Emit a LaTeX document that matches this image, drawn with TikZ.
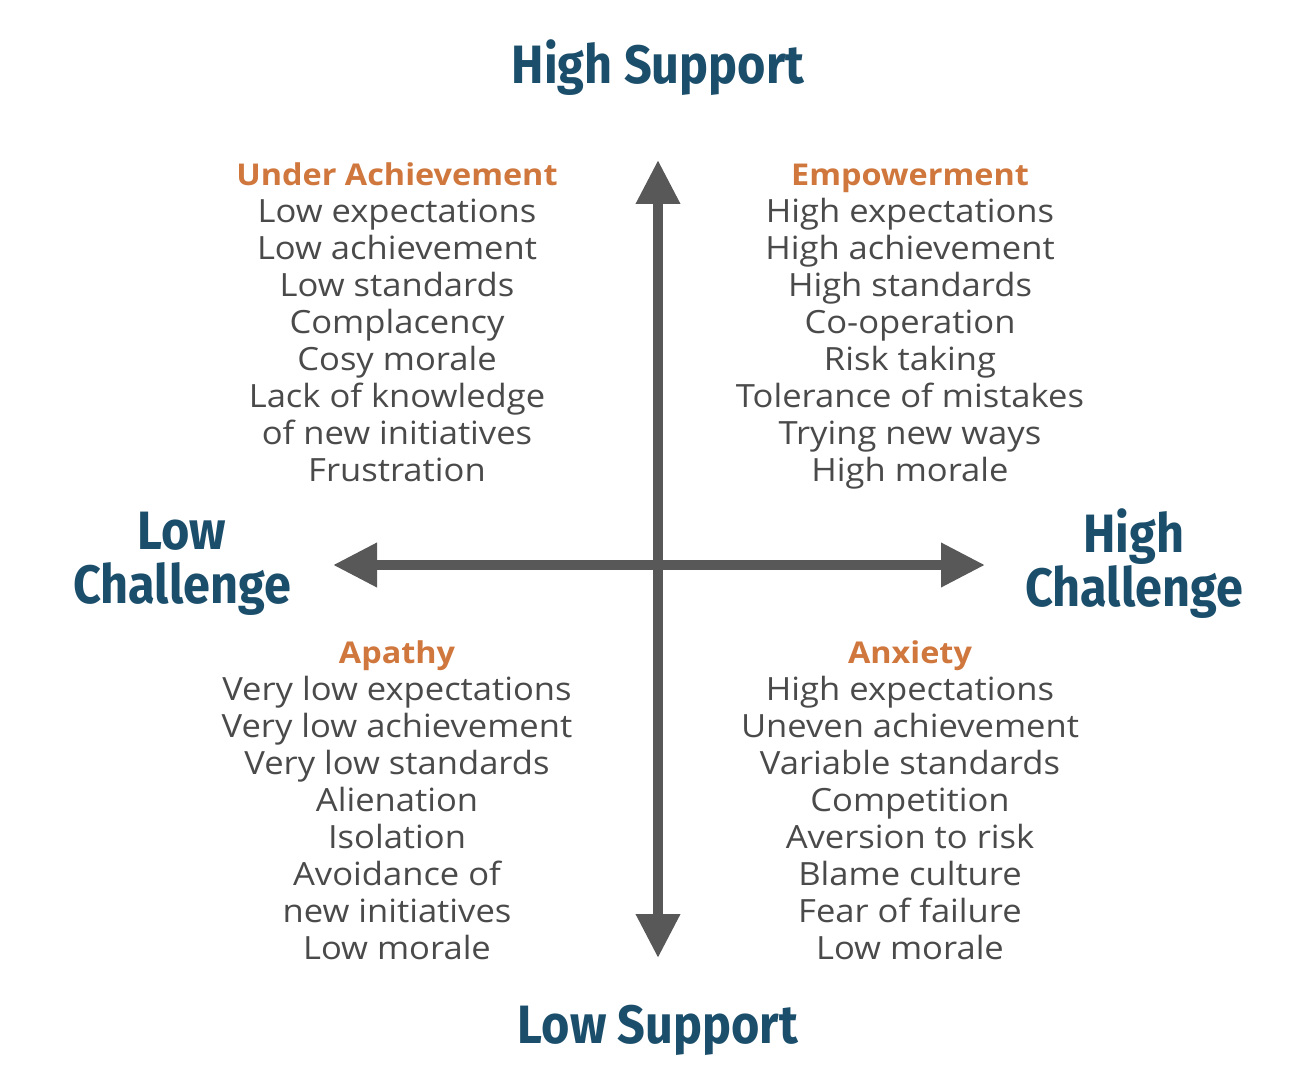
\documentclass[tikz,border=0pt]{standalone}
\usepackage{fontspec}
\setmainfont[FakeStretch=1.08]{Open Sans}
\newfontfamily\headfont[FakeStretch=0.9]{Fira Sans}
\usetikzlibrary{arrows.meta,positioning}
\definecolor{headblue}{HTML}{1B4E6B}
\definecolor{quadorange}{HTML}{D0773D}
\definecolor{bodygray}{HTML}{4A4A4A}
\definecolor{axisgray}{HTML}{585858}
\newcommand{\qtitle}[1]{{\color{quadorange}\bfseries\fontsize{30}{37}\selectfont #1}}

\begin{document}
\begin{tikzpicture}[x=1pt,y=-1pt,
 head/.style={font=\headfont\bfseries\fontsize{54}{62}\selectfont,text=headblue,align=center,inner sep=0pt},
 quad/.style={font=\fontsize{32}{37}\selectfont,text=bodygray,align=center,inner sep=0pt,anchor=base},
 axis/.style={line width=10pt,draw=axisgray,-{Triangle[length=44pt,width=42pt]}}]
\useasboundingbox[fill=white] (0,0) rectangle (1307,1067);
% axes
\coordinate (c) at (658,565);
\coordinate (top) at (658,160);
\coordinate (bot) at (658,958);
\coordinate (lft) at (333,565);
\coordinate (rgt) at (985,565);
\draw[axis] (c)--(top);\draw[axis] (c)--(bot);
\draw[axis] (c)--(lft);\draw[axis] (c)--(rgt);
% axis labels
\node[head] (hs) at (658,68) {High Support};
\node[head] (ls) at (658,1030) {Low Support};
\node[head] (lc) at (182,564) {Low\\[-8pt]Challenge};
\node[head] (hc) at (1134,564) {High\\[-8pt]Challenge};
% quadrants (anchored at the baseline of the last line)
\node[quad] (under) at (397,481) {\qtitle{Under Achievement}\\Low expectations\\Low achievement\\Low standards\\Complacency\\Cosy morale\\Lack of knowledge\\of new initiatives\\Frustration};
\node[quad] (empower) at (910,481) {\qtitle{Empowerment}\\High expectations\\High achievement\\High standards\\Co-operation\\Risk taking\\Tolerance of mistakes\\Trying new ways\\High morale};
\node[quad] (apathy) at (397,959) {\qtitle{Apathy}\\Very low expectations\\Very low achievement\\Very low standards\\Alienation\\Isolation\\Avoidance of\\new initiatives\\Low morale};
\node[quad] (anxiety) at (910,959) {\qtitle{Anxiety}\\High expectations\\Uneven achievement\\Variable standards\\Competition\\Aversion to risk\\Blame culture\\Fear of failure\\Low morale};
\end{tikzpicture}
\end{document}
